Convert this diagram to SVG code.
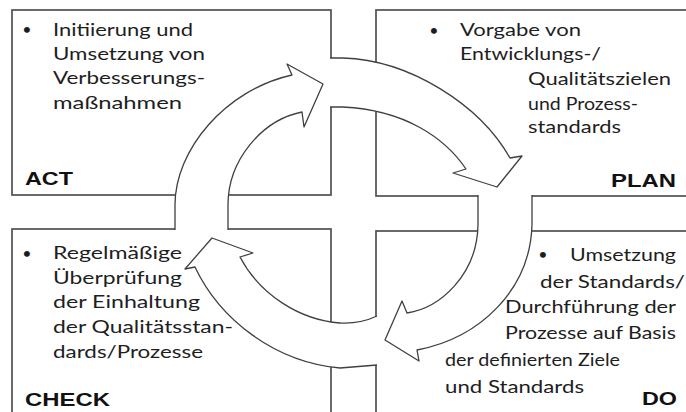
<svg xmlns="http://www.w3.org/2000/svg" width="686" height="412" viewBox="0 0 686 412">
<style>
.box{fill:#fff;stroke:#505050;stroke-width:1.7}
.af{fill:#fff;stroke:none}
.al{fill:none;stroke:#404040;stroke-width:1.3;stroke-linejoin:round}
.t{font-family:Lato,"Open Sans","Liberation Sans",sans-serif;font-size:18px;fill:#1e1e1e}
.b{font-family:Lato,"Open Sans","Liberation Sans",sans-serif;font-size:16px;fill:#1e1e1e}
.lab{font-family:"Liberation Sans",Arial,sans-serif;font-weight:bold;font-size:18px;fill:#111}
</style>
<rect width="686" height="412" fill="#fff"/>
<g id="act">
<rect class="box" x="12" y="10" width="319" height="185"/>
<text class="b" x="27" y="35" text-anchor="middle">•</text>
<text class="t" x="53" y="36" textLength="140" lengthAdjust="spacingAndGlyphs">Initiierung und</text>
<text class="t" x="53" y="60" textLength="152" lengthAdjust="spacingAndGlyphs">Umsetzung von</text>
<text class="t" x="53" y="84" textLength="152" lengthAdjust="spacingAndGlyphs">Verbesserungs-</text>
<text class="t" x="53" y="109" textLength="129" lengthAdjust="spacingAndGlyphs">maßnahmen</text>
<text class="lab" x="25" y="185" textLength="48" lengthAdjust="spacingAndGlyphs">ACT</text>
</g>
<g id="plan">
<rect class="box" x="376" y="10" width="330" height="186"/>
<text class="b" x="434" y="36" text-anchor="middle">•</text>
<text class="t" x="460" y="36" textLength="121" lengthAdjust="spacingAndGlyphs">Vorgabe von</text>
<text class="t" x="460" y="60" textLength="141" lengthAdjust="spacingAndGlyphs">Entwicklungs-/</text>
<text class="t" x="528" y="85" textLength="143" lengthAdjust="spacingAndGlyphs">Qualitätszielen</text>
<text class="t" x="528" y="110" textLength="110" lengthAdjust="spacingAndGlyphs">und Prozess-</text>
<text class="t" x="528" y="133" textLength="93" lengthAdjust="spacingAndGlyphs">standards</text>
<text class="lab" x="611" y="187" textLength="65" lengthAdjust="spacingAndGlyphs">PLAN</text>
</g>
<g id="check">
<rect class="box" x="12" y="229" width="319" height="200"/>
<text class="b" x="27" y="259" text-anchor="middle">•</text>
<text class="t" x="53" y="259" textLength="129" lengthAdjust="spacingAndGlyphs">Regelmäßige</text>
<text class="t" x="53" y="284" textLength="129" lengthAdjust="spacingAndGlyphs">Überprüfung</text>
<text class="t" x="53" y="308" textLength="147" lengthAdjust="spacingAndGlyphs">der Einhaltung</text>
<text class="t" x="53" y="333" textLength="180" lengthAdjust="spacingAndGlyphs">der Qualitätsstan-</text>
<text class="t" x="53" y="358" textLength="150" lengthAdjust="spacingAndGlyphs">dards/Prozesse</text>
<text class="lab" x="25" y="406" textLength="85" lengthAdjust="spacingAndGlyphs">CHECK</text>
</g>
<g id="do">
<rect class="box" x="376" y="231" width="330" height="200"/>
<text class="b" x="543" y="260" text-anchor="middle" font-size="12">•</text>
<text class="t" x="570" y="261" textLength="106" lengthAdjust="spacingAndGlyphs">Umsetzung</text>
<text class="t" x="540" y="288" textLength="145" lengthAdjust="spacingAndGlyphs">der Standards/</text>
<text class="t" x="505" y="313" textLength="171" lengthAdjust="spacingAndGlyphs">Durchführung der</text>
<text class="t" x="505" y="339" textLength="171" lengthAdjust="spacingAndGlyphs">Prozesse auf Basis</text>
<text class="t" x="445" y="366" textLength="175" lengthAdjust="spacingAndGlyphs">der definierten Ziele</text>
<text class="t" x="445" y="393" textLength="139" lengthAdjust="spacingAndGlyphs">und Standards</text>
<text class="lab" x="642" y="405" textLength="35" lengthAdjust="spacingAndGlyphs">DO</text>
</g>
<g id="connectors">
<g id="arrow-act-plan">
<path class="af" d="M175,230 L175,205 C175,150 225,90 292,75 L287,64 L323,84 L304,127 L302,112 C262,120 228,160 228,205 L228,230 Z"/>
<path class="al" d="M175,230 L175,205 C175,150 225,90 292,75 L287,64 L323,84 L304,127 L302,112 C262,120 228,160 228,205 L228,230"/>
</g>
<g id="arrow-plan-do">
<path class="af" d="M330,58 L343,58 C410,60 480,105 510,158 L522,156 L497,187 L453,173 L466,169 C445,138 405,110 343,107 L330,107 Z"/>
<path class="al" d="M330,58 L343,58 C410,60 480,105 510,158 L522,156 L497,187 L453,173 L466,169 C445,138 405,110 343,107 L330,107"/>
</g>
<g id="arrow-do-check">
<path class="af" d="M532,195 L532,225 C530,290 480,338 417,350 L419,361 L385,340 L402,301 L407,313 C440,308 477,275 478,225 L478,195 Z"/>
<path class="al" d="M532,195 L532,225 C530,290 480,338 417,350 L419,361 L385,340 L402,301 L407,313 C440,308 477,275 478,225 L478,195"/>
</g>
<g id="arrow-check-act">
<path class="af" d="M377,316 Q360,324 340,323 C300,320 260,295 240,257 L253,253 L212,238 L185,269 L195,267 C220,320 275,362 340,368 L377,365 Z"/>
<path class="al" d="M377,316 Q360,324 340,323 C300,320 260,295 240,257 L253,253 L212,238 L185,269 L195,267 C220,320 275,362 340,368 L377,365"/>
</g>
</g>
</svg>
